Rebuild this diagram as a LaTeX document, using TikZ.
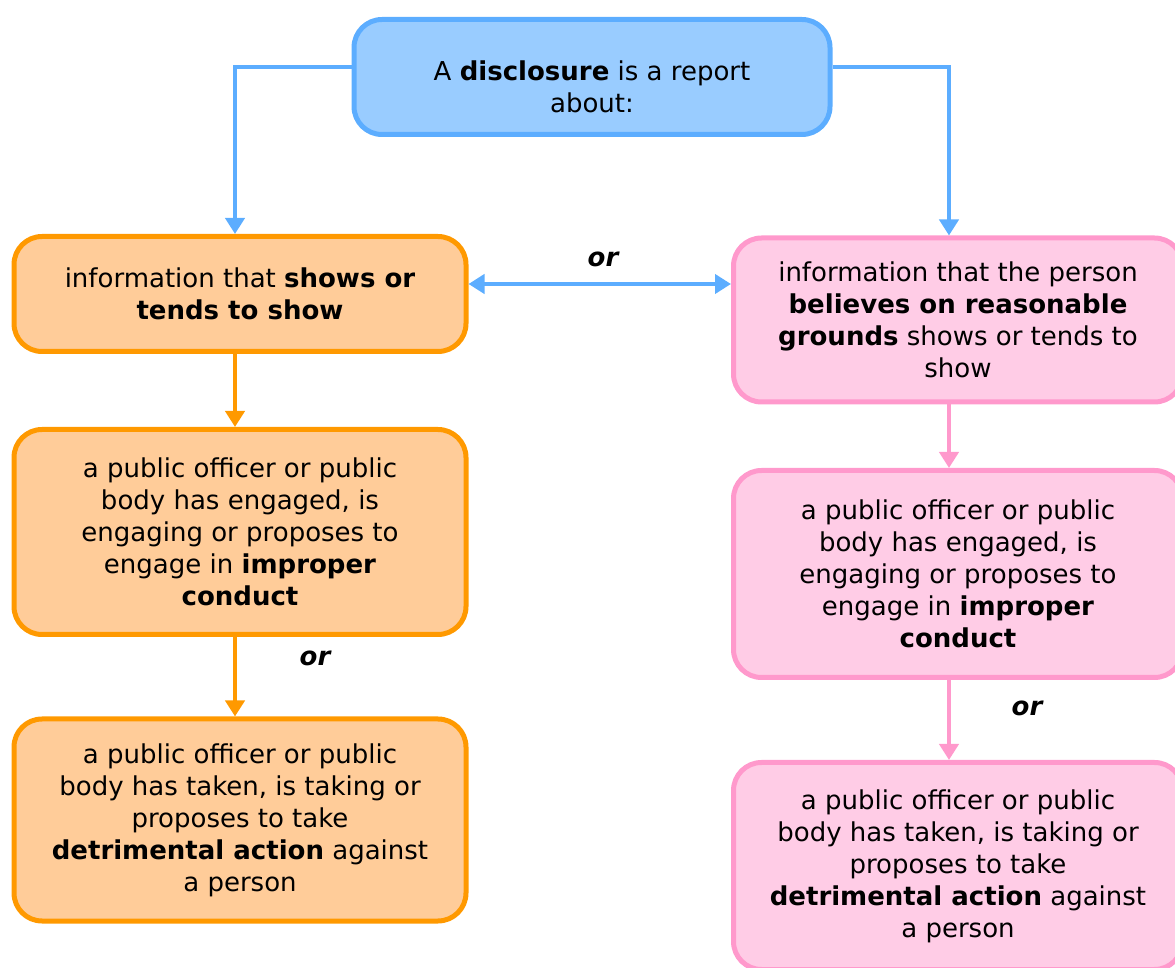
\documentclass[tikz,border=0pt]{standalone}
\usepackage{fontspec}
\setmainfont{DejaVu Sans}
\usetikzlibrary{arrows.meta}

\definecolor{discfill}{HTML}{99CCFF}
\definecolor{discline}{HTML}{5CADFF}
\definecolor{showfill}{HTML}{FFCC99}
\definecolor{showline}{HTML}{FF9900}
\definecolor{believefill}{HTML}{FFCCE6}
\definecolor{believeline}{HTML}{FF99CC}

\tikzset{
  box/.style={draw, rounded corners=14pt, line width=2.5pt, align=center, inner sep=0pt,
    font=\fontsize{13}{16}\selectfont},
  discbox/.style={box, draw=discline, fill=discfill},
  showbox/.style={box, draw=showline, fill=showfill, minimum width=226pt},
  believebox/.style={box, draw=believeline, fill=believefill, minimum width=224.5pt},
  link/.style={line width=2pt, -{Triangle[width=9.5pt,length=8pt]}},
  orlabel/.style={font=\fontsize{13}{16}\selectfont\bfseries\itshape}
}

\begin{document}
\begin{tikzpicture}[x=0.5pt,y=-0.5pt]
            \clip (0,0) rectangle (1175,968);
            \def\lx{240}
            \def\rx{958}
            \node[discbox, minimum width=238pt, minimum height=57.5pt] (disc) at (592,77) {\rule{0pt}{20pt}A \textbf{disclosure} is a report\\about:};
            \node[showbox, minimum height=57.5pt] (shows) at (\lx,294) {information that \textbf{shows or}\\\textbf{tends to show}};
            \node[believebox, minimum height=82pt] (believes) at (\rx,320) {information that the person\\\textbf{believes on reasonable}\\\textbf{grounds} shows or tends to\\show};
            \node[showbox, minimum height=102.5pt] (improperL) at (\lx,532) {a public officer or public\\body has engaged, is\\engaging or proposes to\\engage in \textbf{improper}\\\textbf{conduct}};
            \node[showbox, minimum height=101pt] (detrimentL) at (\lx,820) {a public officer or public\\body has taken, is taking or\\proposes to take\\\textbf{detrimental action} against\\a person};
            \node[believebox, minimum height=103.5pt] (improperR) at (\rx,574) {a public officer or public\\body has engaged, is\\engaging or proposes to\\engage in \textbf{improper}\\\textbf{conduct}};
            \node[believebox, minimum height=103.5pt] (detrimentR) at (\rx,866) {a public officer or public\\body has taken, is taking or\\proposes to take\\\textbf{detrimental action} against\\a person};

            \draw[link, discline] ([yshift=5pt]disc.west) -| ([xshift=-2.5pt]shows.north);
            \draw[link, discline] ([yshift=5pt]disc.east) -| ([xshift=-4.5pt]believes.north);
            \draw[link, discline, {Triangle[width=9.5pt,length=8pt]}-{Triangle[width=9.5pt,length=8pt]}] ([yshift=5pt]shows.east) -- ([yshift=5pt]shows.east -| believes.west);
            \node[orlabel] (or1) at (603,259) {or};

            \draw[link, showline] ([xshift=-2.5pt]shows.south) -- ([xshift=-2.5pt]improperL.north);
            \draw[link, showline] ([xshift=-2.5pt]improperL.south) -- ([xshift=-2.5pt]detrimentL.north);
            \node[orlabel] (or2) at (315,658) {or};

            \draw[link, believeline] ([xshift=-4.5pt]believes.south) -- ([xshift=-4.5pt]improperR.north);
            \draw[link, believeline] ([xshift=-4.5pt]improperR.south) -- ([xshift=-4.5pt]detrimentR.north);
            \node[orlabel] (or3) at (1027,708) {or};
        \end{tikzpicture}
\end{document}
